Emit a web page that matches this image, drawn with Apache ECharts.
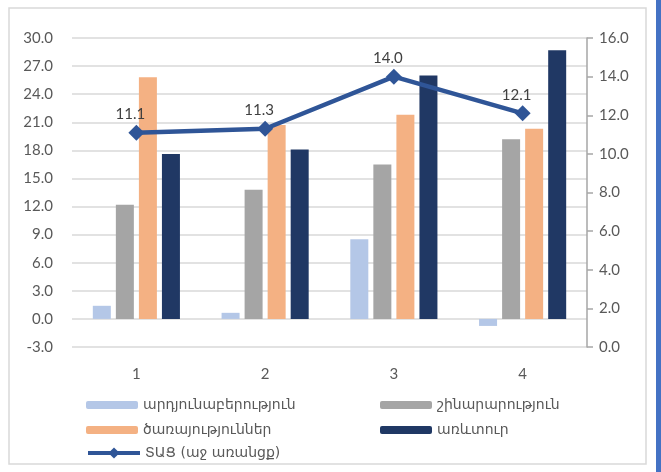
<!DOCTYPE html>
<html>
<head>
<meta charset="utf-8">
<script src="https://cdn.jsdelivr.net/npm/echarts@6/dist/echarts.min.js"></script>
<style>
html, body { margin: 0; padding: 0; background: #fff; }
#main { width: 661px; height: 472px; }
</style>
</head>
<body>
<div id="main"></div>
<script>
var categories = ['1', '2', '3', '4'];
var industry = [1.4, 0.65, 8.5, -0.75];
var construction = [12.2, 13.8, 16.5, 19.2];
var services = [25.8, 20.7, 21.8, 20.3];
var trade = [17.6, 18.1, 26.0, 28.7];
var gdp = [11.1, 11.3, 14.0, 12.1];

var leftTicks = { min: -3, max: 30, interval: 3 };
var rightTicks = { min: 0, max: 16, interval: 2 };

var names = ['արդյունաբերություն', 'շինարարություն', 'ծառայություններ', 'առևտուր', 'ՏԱՑ (աջ առանցք)'];
var colors = ['#b4c7e7', '#a5a5a5', '#f4b183', '#203864', '#2f5597'];

var chart = echarts.init(document.getElementById('main'), null, {renderer: 'canvas'});

function barSeries(i, data) {
    return {
        name: names[i],
        type: 'bar',
        yAxisIndex: 0,
        data: data,
        barWidth: 18,
        barGap: '28%',
        itemStyle: { color: colors[i] },
        emphasis: { disabled: true }
    };
}

var font = 'Lato, "DejaVu Sans", sans-serif';
var legendText = { fontFamily: '"DejaVu Sans", "Noto Sans"', fontSize: 14, color: '#595959' };

chart.setOption({
    animation: false,
    graphic: [
        { type: 'rect', shape: { x: 9, y: 8, width: 637, height: 456 }, style: { fill: 'none', stroke: '#d9d9d9', lineWidth: 1.5 }, z: -1 },
        { type: 'rect', shape: { x: 656, y: 0, width: 5, height: 472 }, style: { fill: '#4472c4' } }
    ],
    grid: { left: 72, right: 74, top: 38, bottom: 125 },
    legend: [
        {
            left: 86, top: 398, padding: 0, orient: 'vertical', itemGap: 11,
            itemWidth: 52, itemHeight: 8,
            data: [names[0], names[2]],
            textStyle: legendText,
            selectedMode: false
        },
        {
            left: 380, top: 398, padding: 0, orient: 'vertical', itemGap: 11,
            itemWidth: 52, itemHeight: 8,
            data: [names[1], names[3]],
            textStyle: legendText,
            selectedMode: false
        },
        {
            left: 86, top: 446, padding: 0,
            itemWidth: 52, itemHeight: 14,
            data: [names[4]],
            lineStyle: { width: 4 },
            textStyle: legendText,
            selectedMode: false
        }
    ],
    xAxis: {
        type: 'category',
        data: categories,
        axisLine: { show: false },
        axisTick: { show: false },
        axisLabel: { margin: 20, fontSize: 15, color: '#595959', fontFamily: font }
    },
    yAxis: [
        {
            type: 'value',
            min: leftTicks.min, max: leftTicks.max, interval: leftTicks.interval,
            axisLine: { show: false },
            axisTick: { show: false },
            splitLine: { lineStyle: { color: '#d9d9d9', width: 1.5 } },
            axisLabel: {
                margin: 19, fontSize: 15, color: '#595959', fontFamily: font,
                formatter: function (v) { return v.toFixed(1); }
            }
        },
        {
            type: 'value',
            position: 'right',
            min: rightTicks.min, max: rightTicks.max, interval: rightTicks.interval,
            axisLine: { show: true, lineStyle: { color: '#a6a6a6', width: 1.5 } },
            axisTick: { show: true, inside: false, length: 6, lineStyle: { color: '#a6a6a6', width: 1.5 } },
            splitLine: { show: false },
            axisLabel: {
                margin: 12, fontSize: 15, color: '#595959', fontFamily: font,
                formatter: function (v) { return v.toFixed(1); }
            }
        }
    ],
    series: [
        barSeries(0, industry),
        barSeries(1, construction),
        barSeries(2, services),
        barSeries(3, trade),
        {
            name: names[4],
            type: 'line',
            yAxisIndex: 1,
            data: gdp,
            symbol: 'diamond',
            symbolSize: 16,
            lineStyle: { color: colors[4], width: 4.5 },
            itemStyle: { color: colors[4] },
            label: {
                show: true, position: 'top', distance: 3, offset: [-6, 0],
                fontSize: 15, color: '#404040', fontFamily: font,
                formatter: function (p) { return p.value.toFixed(1); }
            },
            emphasis: { disabled: true },
            z: 5
        }
    ]
});
</script>
</body>
</html>
